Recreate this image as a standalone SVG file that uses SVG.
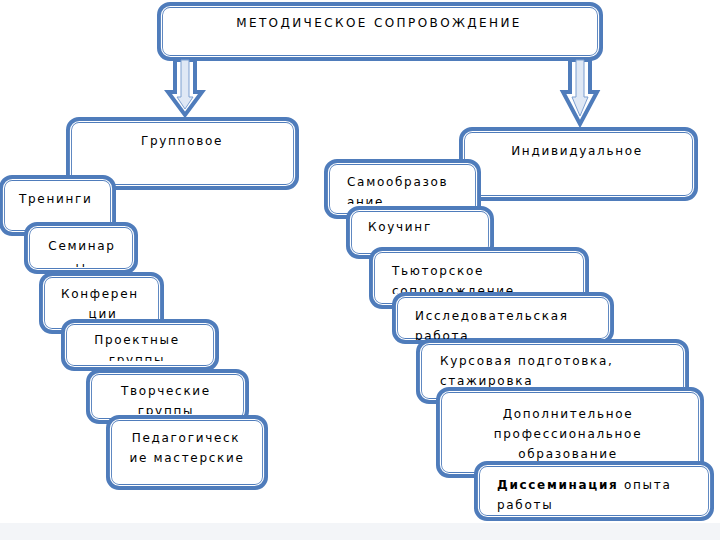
<svg xmlns="http://www.w3.org/2000/svg" width="720" height="540" viewBox="0 0 720 540">
<style>
.b{fill:#ffffff;stroke:#4f7cbb;stroke-width:6}
.i{fill:none;stroke:#ffffff;stroke-width:1.2}
.t{font-family:"DejaVu Sans",Verdana,sans-serif;font-size:12px;letter-spacing:1.7px;fill:#000}
.c{text-anchor:middle}
.ar{fill:#ffffff;stroke:#4f7cbb;stroke-width:4;stroke-linejoin:miter}
.ai{fill:#dfe8f5;stroke:#7d9fd0;stroke-width:1}
</style>
<defs>
<clipPath id="cSem"><rect x="29" y="227" width="104" height="40"/></clipPath>
<clipPath id="cKon"><rect x="44" y="277" width="115" height="50"/></clipPath>
<clipPath id="cPro"><rect x="66" y="324" width="148" height="37"/></clipPath>
<clipPath id="cTvo"><rect x="91" y="374" width="153" height="40"/></clipPath>
<clipPath id="cSam"><rect x="329" y="164" width="147" height="40"/></clipPath>
<clipPath id="cTyu"><rect x="374" y="252" width="210" height="42"/></clipPath>
<clipPath id="cIss"><rect x="397" y="297" width="212" height="43"/></clipPath>
</defs>
<rect x="0" y="523" width="720" height="17" fill="#f3f5f8"/>

<g id="top">
<rect class="b" x="160" y="5" width="440" height="53" rx="10"/>
<rect class="i" x="161.5" y="6.5" width="437" height="50" rx="9"/>
<text class="t" x="379" y="27" text-anchor="middle" style="letter-spacing:2.4px">МЕТОДИЧЕСКОЕ СОПРОВОЖДЕНИЕ</text>
</g>

<g id="connectors">
<polygon class="ar" points="175,60 195,60 195,92 202,92 185,115 168,92 175,92"/>
<polygon class="ai" points="181,60 189,60 189,97 193,97 185,109 177,97 181,97"/>
<polygon class="ar" points="570,60 590,60 590,92 597,92 580,124 563,92 570,92"/>
<polygon class="ai" points="576,60 584,60 584,97 588,97 580,116 572,97 576,97"/>
</g>

<g id="gruppovoe">
<rect class="b" x="69" y="120" width="227" height="67" rx="10"/>
<rect class="i" x="70.5" y="121.5" width="224" height="64" rx="9"/>
<text class="t c" x="182" y="145">Групповое</text>
</g>
<g id="treningi">
<rect class="b" x="2" y="178" width="111" height="55" rx="10"/>
<rect class="i" x="3.5" y="179.5" width="108" height="52" rx="9"/>
<text class="t" x="19" y="203">Тренинги</text>
</g>
<g id="seminary">
<rect class="b" x="27" y="225" width="108" height="46" rx="10"/>
<rect class="i" x="28.5" y="226.5" width="105" height="43" rx="9"/>
<g clip-path="url(#cSem)"><text class="t c" x="82" y="250">Семинар</text><text class="t c" x="81" y="270.5">ы</text></g>
</g>
<g id="konferencii">
<rect class="b" x="42" y="275" width="119" height="56" rx="10"/>
<rect class="i" x="43.5" y="276.5" width="116" height="53" rx="9"/>
<g clip-path="url(#cKon)"><text class="t" x="61" y="298">Конферен</text><text class="t c" x="103" y="318">ции</text></g>
</g>
<g id="proektnye">
<rect class="b" x="64" y="322" width="152" height="46" rx="10"/>
<rect class="i" x="65.5" y="323.5" width="149" height="43" rx="9"/>
<g clip-path="url(#cPro)"><text class="t c" x="137" y="344">Проектные</text><text class="t c" x="137" y="364">группы</text></g>
</g>
<g id="tvorcheskie">
<rect class="b" x="89" y="372" width="157" height="49" rx="10"/>
<rect class="i" x="90.5" y="373.5" width="154" height="46" rx="9"/>
<g clip-path="url(#cTvo)"><text class="t c" x="166" y="395">Творческие</text><text class="t c" x="166" y="415">группы</text></g>
</g>
<g id="pedagogicheskie">
<rect class="b" x="109" y="418" width="156" height="69" rx="10"/>
<rect class="i" x="110.5" y="419.5" width="153" height="66" rx="9"/>
<text class="t c" x="186" y="442">Педагогическ</text>
<text class="t c" x="187" y="462">ие мастерские</text>
</g>

<g id="individualnoe">
<rect class="b" x="462" y="130" width="233" height="68" rx="10"/>
<rect class="i" x="463.5" y="131.5" width="230" height="65" rx="9"/>
<text class="t c" x="577" y="155">Индивидуальное</text>
</g>
<g id="samoobrazovanie">
<rect class="b" x="327" y="162" width="151" height="54" rx="10"/>
<rect class="i" x="328.5" y="163.5" width="148" height="51" rx="9"/>
<g clip-path="url(#cSam)"><text class="t" x="347" y="186">Самообразов</text><text class="t" x="347" y="206">ание</text></g>
</g>
<g id="kouching">
<rect class="b" x="349" y="209" width="142" height="47" rx="10"/>
<rect class="i" x="350.5" y="210.5" width="139" height="44" rx="9"/>
<text class="t" x="368" y="231">Коучинг</text>
</g>
<g id="tyutorskoe">
<rect class="b" x="372" y="250" width="214" height="56" rx="10"/>
<rect class="i" x="373.5" y="251.5" width="211" height="53" rx="9"/>
<g clip-path="url(#cTyu)"><text class="t" x="392" y="275">Тьюторское</text><text class="t" x="392" y="295">сопровождение</text></g>
</g>
<g id="issledovatelskaya">
<rect class="b" x="395" y="295" width="216" height="46" rx="10"/>
<rect class="i" x="396.5" y="296.5" width="213" height="43" rx="9"/>
<g clip-path="url(#cIss)"><text class="t" x="415" y="320">Исследовательская</text><text class="t" x="415" y="340">работа</text></g>
</g>
<g id="kursovaya">
<rect class="b" x="419" y="342" width="267" height="59" rx="10"/>
<rect class="i" x="420.5" y="343.5" width="264" height="56" rx="9"/>
<text class="t" x="440" y="365">Курсовая подготовка,</text>
<text class="t" x="440" y="385">стажировка</text>
</g>
<g id="dopolnitelnoe">
<rect class="b" x="439" y="390" width="262" height="85" rx="10"/>
<rect class="i" x="440.5" y="391.5" width="259" height="82" rx="9"/>
<text class="t c" x="568" y="418">Дополнительное</text>
<text class="t c" x="568" y="438">профессиональное</text>
<text class="t c" x="568" y="458">образование</text>
</g>
<g id="disseminaciya">
<rect class="b" x="477" y="464" width="234" height="54" rx="10"/>
<rect class="i" x="478.5" y="465.5" width="231" height="51" rx="9"/>
<text class="t" x="497" y="489"><tspan font-weight="bold">Диссеминация</tspan> опыта</text>
<text class="t" x="497" y="509">работы</text>
</g>
</svg>
